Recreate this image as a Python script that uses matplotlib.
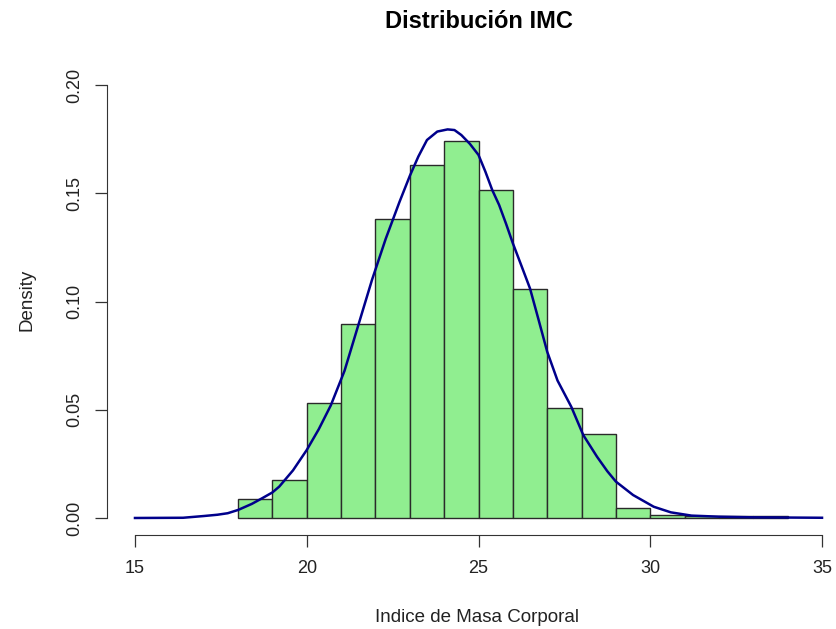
import numpy as np
import matplotlib.pyplot as plt

plt.rcParams['font.family'] = ['Liberation Sans', 'DejaVu Sans']

# histogram bins (IMC) and densities
bin_edges = [18, 19, 20, 21, 22, 23, 24, 25, 26, 27, 28, 29, 30, 31, 32, 33, 34]
densities = [0.0088, 0.0176, 0.053, 0.0896, 0.138, 0.163, 0.174, 0.1515,
             0.1058, 0.0508, 0.0388, 0.0046, 0.0015, 0.0007, 0.0007, 0.0007]

# density curve points
curve_x = [15.0, 16.4, 17.0, 17.4, 17.7, 18.0, 18.4, 18.7, 19.0, 19.2, 19.6,
           20.0, 20.35, 20.7, 21.1, 21.5, 21.9, 22.3, 22.7, 23.0, 23.25, 23.5,
           23.8, 24.1, 24.3, 24.5, 24.75, 25.0, 25.2, 25.4, 25.6, 25.8, 26.0,
           26.25, 26.5, 26.75, 27.0, 27.3, 27.7, 28.05, 28.45, 28.75, 29.0,
           29.5, 30.1, 30.6, 31.2, 32.0, 33.0, 35.0]
curve_y = [0.0, 0.0001, 0.0009, 0.0015, 0.0022, 0.0037, 0.0065, 0.0091, 0.0118,
           0.0145, 0.022, 0.0314, 0.041, 0.052, 0.068, 0.089, 0.110, 0.129,
           0.146, 0.158, 0.167, 0.1746, 0.1785, 0.1795, 0.1792, 0.1769,
           0.1728, 0.1677, 0.160, 0.1515, 0.1446, 0.136, 0.1269, 0.1165,
           0.106, 0.0915, 0.0768, 0.0635, 0.0514, 0.0383, 0.0283, 0.0216,
           0.0168, 0.0106, 0.0052, 0.0026, 0.0011, 0.0006, 0.0003, 0.0001]

x_ticks = [15, 20, 25, 30, 35]
y_ticks = [0.00, 0.05, 0.10, 0.15, 0.20]

fig = plt.figure(figsize=(8.36, 6.29), dpi=100)
ax = fig.add_axes([107.5 / 836, 93.7 / 629, 742 / 836, 467.6 / 629])

lefts = np.array(bin_edges[:-1])
widths = np.diff(bin_edges)
ax.bar(lefts, densities, width=widths, align='edge', color='#90EE90',
       edgecolor='#2a2a2a', linewidth=1.0)
ax.plot(curve_x, curve_y, color='#00008B', linewidth=1.8)

ax.set_xlim(14.2, 35.8)
ax.set_ylim(-0.008, 0.208)

for s in ['top', 'right']:
    ax.spines[s].set_visible(False)
ax.spines['left'].set_bounds(0, 0.2)
ax.spines['bottom'].set_bounds(15, 35)
ax.spines['left'].set_color('#333333')
ax.spines['bottom'].set_color('#333333')

ax.set_xticks(x_ticks)
ax.set_xticklabels([str(t) for t in x_ticks])
ax.set_yticks(y_ticks)
ax.set_yticklabels([f'{t:.2f}' for t in y_ticks], rotation=90, va='center')
ax.tick_params(length=8.5, width=0.9, color='#333333', labelsize=13,
               labelcolor='#222222')
ax.tick_params(axis='x', pad=9)
ax.tick_params(axis='y', pad=9)

fig.text(0.5 * (107.5 + 849.5) / 836, 1 - 21 / 629, 'Distribución IMC',
         ha='center', va='center', fontsize=17, fontweight='bold')
fig.text(477 / 836, 1 - 617 / 629, 'Indice de Masa Corporal',
         ha='center', va='center', fontsize=13.5, color='#222222')
fig.text(27 / 836, 1 - 300 / 629, 'Density', rotation=90,
         ha='center', va='center', fontsize=13.5, color='#222222')

fig.savefig('out.png', dpi=100)
